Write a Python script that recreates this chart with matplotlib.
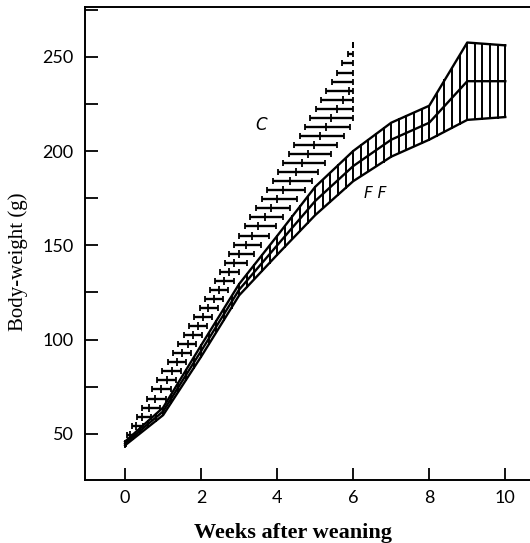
import numpy as np
import matplotlib
matplotlib.use("Agg")
import matplotlib.pyplot as plt
from matplotlib.ticker import MultipleLocator

# ---- data ----
c_weeks = [0, 1, 2, 3, 4, 5, 6]
c_mean = [46, 75, 110, 145.5, 174.25, 204.25, 235.5]
c_half = [2, 9, 8, 9.5, 13.75, 17.75, 20.5]

ff_weeks = [0, 1, 2, 3, 4, 5, 6, 7, 8, 9, 10]
ff_mean = [45, 62, 94, 126.5, 150, 173.5, 192, 206, 215, 237, 237]
ff_half = [1, 2, 3, 3, 5, 7.5, 8, 9, 9, 20.5, 19]

x_ticks = [0, 2, 4, 6, 8, 10]
y_ticks = [50, 100, 150, 200, 250]

c_w = np.array(c_weeks, float)
c_m = np.array(c_mean, float)
c_h = np.array(c_half, float)
c_up, c_lo = c_m + c_h, c_m - c_h

f_w = np.array(ff_weeks, float)
f_m = np.array(ff_mean, float)
f_h = np.array(ff_half, float)
f_up, f_lo = f_m + f_h, f_m - f_h

fig = plt.figure(figsize=(5.30, 5.43), dpi=100)
ax = fig.add_axes([0.160, 0.116, 0.845, 0.871])
ax.set_xlim(-1.06, 10.72)
ax.set_ylim(25.6, 276.3)

# ---- C band: horizontal hatch lines ----
levels = np.arange(c_up[-1], c_lo[0], -4.8)
for yv in levels:
    xa = np.interp(yv, c_up, c_w)
    xb = np.interp(yv, c_lo, c_w)
    xc = np.interp(yv, c_m, c_w)
    xb = min(xb, c_w[-1])
    ax.plot([xa, xb], [yv, yv], color="black", lw=1.7, solid_capstyle="butt")
    ax.plot([xa, xb], [yv, yv], ls="none", marker="|", ms=5, mew=1.3, color="black")
    if xc < xb:
        ax.plot([xc], [yv], ls="none", marker="|", ms=6, mew=1.3, color="black")

# ---- FF band: outline, mean line and vertical hatch ----
ax.plot(f_w, f_up, color="black", lw=1.7)
ax.plot(f_w, f_m, color="black", lw=1.7)
ax.plot(f_w, f_lo, color="black", lw=1.7)
for xv in np.arange(0, f_w[-1] + 0.01, 0.2):
    ax.plot([xv, xv], [np.interp(xv, f_w, f_lo), np.interp(xv, f_w, f_up)],
            color="black", lw=1.4)

ax.text(3.58, 213.8, "C", fontsize=12, style="italic", family="DejaVu Sans",
        ha="center", va="center")
ax.text(6.57, 177.7, "F F", fontsize=11, style="italic", family="DejaVu Sans",
        ha="center", va="center")

# ---- axes styling ----
ax.spines["right"].set_visible(False)
for s in ["left", "bottom", "top"]:
    ax.spines[s].set_linewidth(1.4)
ax.set_xticks(x_ticks)
ax.set_yticks(y_ticks)
ax.yaxis.set_minor_locator(MultipleLocator(25))
ax.tick_params(axis="both", which="both", direction="in", length=9, width=1.3,
               labelsize=13)
ax.tick_params(axis="y", pad=8)
ax.tick_params(axis="x", pad=7)
for lab in ax.get_xticklabels() + ax.get_yticklabels():
    lab.set_family("Lato")

ax.set_xlabel("Weeks after weaning", family="Liberation Serif", fontweight="bold",
              fontsize=16)
ax.set_ylabel("Body-weight (g)", family="Liberation Serif", fontsize=15)
ax.xaxis.set_label_coords((293 - 85) / (0.845 * 530), -(533 - 480) / (0.871 * 543),
                          transform=ax.transAxes)
ax.xaxis.label.set_va("center")
ax.yaxis.set_label_coords(-(85 - 18) / (0.845 * 530), (480 - 262) / (0.871 * 543),
                          transform=ax.transAxes)
ax.yaxis.label.set_va("center")

fig.savefig("out.png", dpi=100)
